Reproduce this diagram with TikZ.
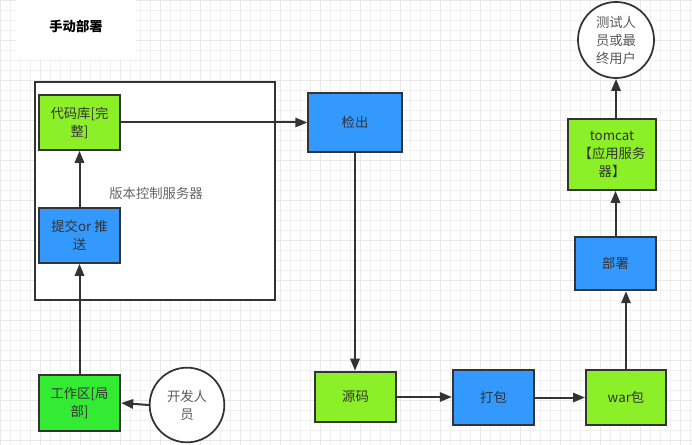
\documentclass[tikz,border=0pt]{standalone}
\usepackage{fontspec}
\setmainfont{Noto Sans CJK SC}
\usepackage{tikz}
\usetikzlibrary{arrows.meta, positioning}
\usepackage{xcolor}
\definecolor{lime}{RGB}{140,240,40}
\definecolor{azure}{RGB}{51,153,255}
\definecolor{brightgreen}{RGB}{51,235,51}
\definecolor{edge}{RGB}{51,51,51}
\definecolor{gridline}{RGB}{240,240,240}

\begin{document}
\begin{tikzpicture}[x=0.75pt, y=-0.75pt]

% TikZ styles
\tikzset{
  box/.style={rectangle, draw=edge, line width=1.5pt, text=edge, align=center, font=\fontsize{10}{13.5}\selectfont},
  store/.style={box, fill=lime},
  proc/.style={box, fill=azure},
  local/.style={box, fill=brightgreen},
  person/.style={circle, draw=edge, line width=1.3pt, fill=white, text=black!65, align=center, inner sep=0pt, font=\fontsize{10}{13.5}\selectfont},
  arrow/.style={-{Triangle[length=9pt, width=7pt]}, draw=edge, line width=1.5pt}
}
\useasboundingbox (0,0) rectangle (692,445);
\fill[white] (0,0) rectangle (692,445);

%==========================
% Hintergrundraster
%==========================
\foreach \gx in {0,10,...,690} {\draw[gridline, line width=0.4pt] (\gx,0) -- (\gx,445);}
\foreach \gy in {0,10,...,440} {\draw[gridline, line width=0.4pt] (0,\gy) -- (692,\gy);}
\foreach \gx in {0,40,...,680} {\draw[black!9, line width=0.5pt] (\gx,0) -- (\gx,445);}
\foreach \gy in {0,40,...,440} {\draw[black!9, line width=0.5pt] (0,\gy) -- (692,\gy);}

\node[fill=white, minimum width=90, minimum height=50, font=\bfseries\fontsize{10}{12}\selectfont] (title) at (76,26) {手动部署};

% Versionsverwaltung
\draw[draw=edge, fill=white, line width=1.5pt] (35,82) rectangle (275,300);
\node[text=black!60, font=\fontsize{10}{12}\selectfont] (serverlabel) at (156,193) {版本控制服务器};

\node[store, minimum width=61, minimum height=41] (repo)   at (79.5,122.5) {代码库[完\\整]};
\node[proc,  minimum width=61, minimum height=41] (commit) at (79.5,235.5) {提交or 推\\送};
\node[local, minimum width=61, minimum height=42] (work)   at (79.5,403)   {工作区[局\\部]};
\node[person, minimum size=56] (dev) at (187,405) {开发人\\员};

% Ablauf rechts
\node[proc,  minimum width=70, minimum height=44] (checkout) at (355,122.5) {检出};
\node[store, minimum width=61, minimum height=38] (source)   at (355.5,397) {源码};
\node[proc,  minimum width=61, minimum height=41] (pack)     at (493.5,397.5) {打包};
\node[store, minimum width=60, minimum height=41] (war)      at (626,397.5) {war包};
\node[proc,  minimum width=61, minimum height=40] (deploy)   at (615.5,263.5) {部署};
\node[store, minimum width=66, minimum height=53] (tomcat)   at (612,154.5) {tomcat\\【应用服务\\器】};
\node[person, minimum size=57] (user) at (616,40) {测试人\\员或最\\终用户};

\draw[arrow] (dev.west) -- (work.east);
\draw[arrow] (work.north) -- (commit.south);
\draw[arrow] (commit.north) -- (repo.south);
\draw[arrow] (repo.east) -- (checkout.west |- repo.east);
\draw[arrow] (checkout.south) -- (source.north -| checkout.south);
\draw[arrow] (source.east) -- (pack.west |- source.east);
\draw[arrow] (pack.east) -- (war.west |- pack.east);
\draw[arrow] (war.north) -- (deploy.south -| war.north);
\draw[arrow] (deploy.north) -- (tomcat.south -| deploy.north);
\draw[arrow] (tomcat.north -| user.south) -- (user.south);
\end{tikzpicture}
\end{document}
